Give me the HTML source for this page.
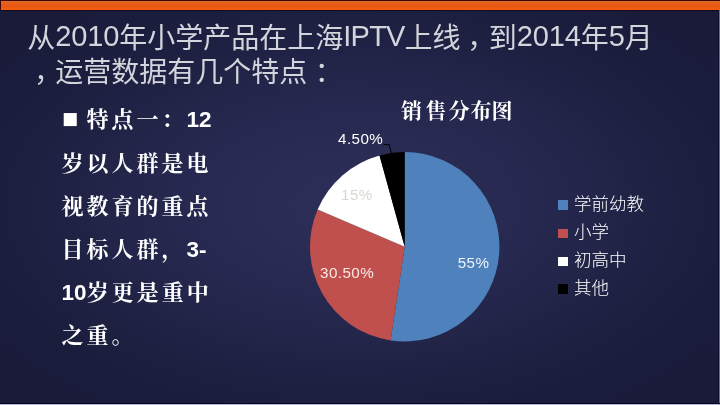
<!DOCTYPE html>
<html lang="zh-CN">
<head>
<meta charset="utf-8">
<title>运营数据特点</title>
<style>
html,body{margin:0;padding:0;}
body{width:720px;height:405px;overflow:hidden;background:#1b1d3d;}
#slide{position:relative;width:720px;height:405px;overflow:hidden;
  background:radial-gradient(ellipse 360px 202px at 355px 205px,#2d2f59 0%,#2a2c54 25%,#26284f 50%,#23254a 65%,#212346 76%,#1e2042 90%,#1b1d3d 106%,#1a1b39 130%);}
#topline{position:absolute;left:0;top:0;width:720px;height:1px;background:#3a0500;}
#leftline{position:absolute;left:0;top:0;width:1px;height:10px;background:#3a0500;}
#bar{position:absolute;left:1px;top:1px;width:719px;height:9px;background:linear-gradient(#d46a30 0%,#e2641f 15%,#e95a18 35%,#e65717 60%,#f35a0b 80%,#f05e14 100%);border-bottom:1px solid #14071e;}
#rightline{position:absolute;left:718px;top:10px;width:1px;height:395px;background:#0d0f31;border-right:1px solid #6b6d93;}
#botline{position:absolute;left:0;top:404px;width:720px;height:1px;background:#b4b5d0;}
#botline2{position:absolute;left:0;top:403px;width:720px;height:1px;background:#05052a;}
.t{position:absolute;white-space:nowrap;margin:0;}
.title{font-family:"Liberation Sans","Noto Sans CJK SC",sans-serif;font-size:28px;color:#d4d4dc;line-height:34px;left:27.25px;}
.title .n{font-size:29px;letter-spacing:-0.12px;position:relative;top:-2.3px;}
.title .l{font-size:29px;letter-spacing:-0.8px;position:relative;top:-2.3px;}
.title .p{position:relative;left:6.7px;}
.title .q{position:relative;left:7.5px;}
.body{font-family:"Liberation Sans","Noto Serif CJK SC",serif;font-weight:bold;font-size:22px;color:#fff;line-height:30px;left:61.6px;letter-spacing:3px;}
.body .n{letter-spacing:0;font-size:22.5px;}
.ctitle{font-family:"Liberation Serif","Noto Serif CJK SC",serif;font-weight:bold;font-size:21px;color:#fff;left:401px;top:96px;line-height:30px;letter-spacing:1.5px;}
.leg{font-family:"Liberation Sans","Noto Sans CJK SC",sans-serif;font-weight:300;font-size:17.5px;color:#fff;left:574px;line-height:22px;}
#bul{position:absolute;left:62.1px;top:102.5px;margin:0;font-family:"DejaVu Sans","Noto Sans CJK SC",sans-serif;font-size:17px;line-height:30px;color:#fff;}
.sq{position:absolute;left:558.3px;width:9.5px;height:9.5px;}
svg{position:absolute;left:0;top:0;}
svg text{font-family:"Liberation Sans",sans-serif;font-size:15.2px;letter-spacing:0.45px;}
</style>
</head>
<body>
<div id="slide">
<div id="bar"></div><div id="topline"></div><div id="leftline"></div><div id="rightline"></div><div id="botline2"></div><div id="botline"></div>

<p class="t title" id="t1" style="top:21.4px;">从<span class="n">2010</span>年小学产品在上海<span class="l">IPTV</span>上线<span class="p">，</span>到<span class="n">2014</span>年<span class="n">5</span>月</p>
<p class="t title" id="t2" style="top:55.5px;"><span class="p">，</span>运营数据有几个特点<span class="q">：</span></p>

<p id="bul">■</p>
<p class="t body" id="b1" style="top:104.8px;left:86.6px;">特点一：<span class="n">12</span></p>
<p class="t body" id="b2" style="top:149.4px;">岁以人群是电</p>
<p class="t body" id="b3" style="top:191.9px;">视教育的重点</p>
<p class="t body" id="b4" style="top:235px;">目标人群，<span class="n">3-</span></p>
<p class="t body" id="b5" style="top:278px;"><span class="n">10</span>岁更是重中</p>
<p class="t body" id="b6" style="top:321.4px;">之重。</p>

<p class="t ctitle" id="ct">销<span style="position:relative;left:2px">售</span><span style="position:relative;left:2.5px">分</span><span style="position:relative;left:2px">布</span><span style="position:relative;left:0.5px">图</span></p>

<svg width="720" height="405" viewBox="0 0 720 405">
  <g id="pie">
  <path d="M404.7 246.8L404.70 152.10A94.7 94.7 0 1 1 390.59 340.44Z" fill="#4f81bd"/>
  <path d="M404.7 246.8L390.59 340.44A94.7 94.7 0 0 1 317.62 209.58Z" fill="#c0504d"/>
  <path d="M404.7 246.8L317.62 209.58A94.7 94.7 0 0 1 379.51 155.51Z" fill="#ffffff"/>
  <path d="M404.7 246.8L379.51 155.51A94.7 94.7 0 0 1 404.70 152.10Z" fill="#000000"/>
  </g>
  <polyline points="383.5,144.5 389,144.5 391.5,153" fill="none" stroke="#000" stroke-width="1"/>
  <text id="l1" x="338" y="144.2" fill="#fff">4.50%</text>
  <text id="l2" x="341" y="200" fill="#d8d8d0">15%</text>
  <text id="l3" x="320" y="277.8" fill="#f8e8e4">30.50%</text>
  <text id="l4" x="457.7" y="267.8" fill="#eef2fa">55%</text>
</svg>

<div class="sq" style="top:200.3px;background:#4f81bd;"></div>
<div class="sq" style="top:228.6px;background:#c0504d;"></div>
<div class="sq" style="top:256.5px;background:#fff;"></div>
<div class="sq" style="top:284.3px;background:#000;"></div>
<p class="t leg" id="g1" style="top:193px;">学前幼教</p>
<p class="t leg" id="g2" style="top:221px;">小学</p>
<p class="t leg" id="g3" style="top:249px;">初高中</p>
<p class="t leg" id="g4" style="top:277px;">其他</p>
</div>
</body>
</html>
